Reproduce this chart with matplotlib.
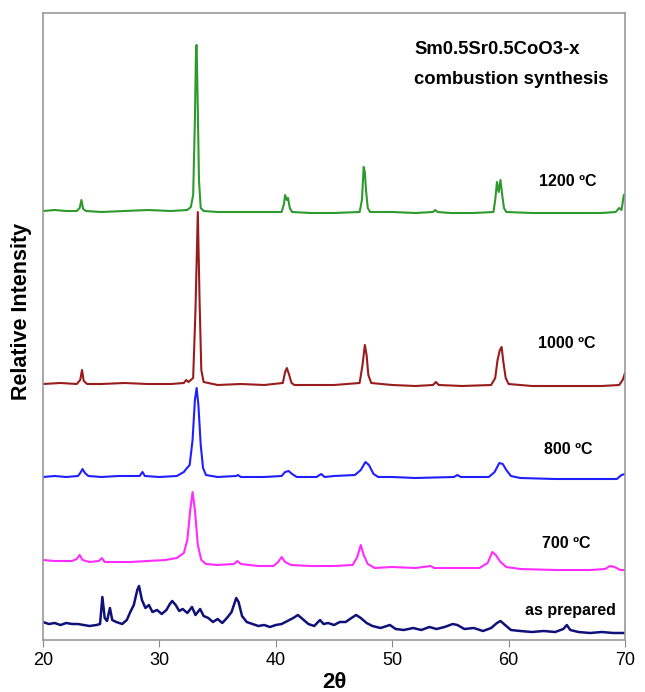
import matplotlib.pyplot as plt

# 2theta / relative intensity (offset traces, arbitrary units)
x_1200 = [20.0, 21.0, 22.0, 22.9, 23.15, 23.3, 23.45, 23.7, 25.0, 27.0, 29.0, 31.0, 32.4, 32.7, 32.9, 33.05,
          33.15, 33.2, 33.3, 33.4, 33.55, 33.8, 35.0, 37.0, 39.0, 40.5, 40.7, 40.8, 40.95, 41.05, 41.2, 41.4,
          43.0, 45.0, 47.2, 47.4, 47.55, 47.65, 47.75, 47.9, 48.1, 50.0, 52.0, 53.5, 53.7, 53.9, 55.0, 57.0,
          58.7, 58.85, 59.0, 59.15, 59.3, 59.45, 59.6, 59.8, 62.0, 65.0, 68.0, 69.2, 69.5, 69.7, 69.9, 70.0]
y_1200 = [429, 430, 429, 429, 432, 440, 431, 429, 428, 429, 430, 429, 430, 433, 445, 520,
          594, 595, 530, 460, 432, 429, 428, 428, 428, 428, 436, 445, 440, 442, 432, 428,
          427, 427, 428, 440, 473, 468, 450, 432, 428, 428, 427, 428, 430, 428, 427, 427,
          428, 440, 458, 448, 460, 445, 432, 428, 427, 427, 427, 428, 432, 430, 445, 446]

x_1000 = [20.0, 21.5, 22.9, 23.2, 23.35, 23.5, 23.8, 25.0, 27.0, 29.0, 31.0, 32.1, 32.3, 32.5, 32.9, 33.1,
          33.3, 33.45, 33.6, 33.8, 35.0, 37.0, 39.0, 40.6, 40.8, 40.95, 41.15, 41.35, 41.6, 43.0, 45.0,
          47.2, 47.45, 47.65, 47.8, 47.95, 48.2, 50.0, 52.0, 53.5, 53.75, 54.0, 56.0, 58.5, 58.85, 59.05,
          59.25, 59.4, 59.55, 59.75, 60.0, 62.0, 65.0, 68.0, 69.5, 69.8, 70.0]
y_1000 = [256, 257, 256, 260, 270, 259, 256, 256, 257, 256, 256, 257, 260, 258, 262, 330,
          428, 340, 270, 258, 255, 256, 255, 257, 268, 272, 265, 257, 255, 255, 255,
          257, 275, 295, 285, 265, 257, 255, 254, 255, 258, 255, 254, 255, 262, 280,
          290, 293, 278, 262, 256, 254, 254, 254, 255, 260, 267]

x_800 = [20.0, 21.0, 22.0, 23.0, 23.2, 23.4, 23.6, 23.9, 25.0, 26.5, 28.3, 28.55, 28.75, 30.0, 31.5, 32.1,
         32.3, 32.6, 32.85, 33.05, 33.2, 33.35, 33.55, 33.75, 34.0, 35.0, 36.6, 36.75, 37.0, 39.0, 40.5,
         40.8, 41.1, 41.4, 41.8, 43.5, 43.9, 44.2, 45.0, 46.8, 47.3, 47.7, 48.0, 48.4, 48.8, 50.0, 52.0,
         55.3, 55.6, 55.9, 58.3, 58.8, 59.2, 59.5, 59.8, 60.2, 61.0, 64.0, 67.0, 69.3, 69.7, 70.0]
y_800 = [163, 164, 163, 164, 167, 171, 167, 164, 163, 164, 164, 168, 164, 163, 164, 168,
         171, 175, 200, 240, 252, 235, 195, 172, 165, 163, 164, 165, 163, 163, 164,
         168, 169, 166, 163, 163, 166, 163, 164, 165, 170, 178, 175, 166, 163, 163, 162,
         163, 165, 163, 163, 168, 177, 176, 170, 164, 162, 161, 161, 161, 165, 166]

x_700 = [20.0, 21.0, 22.5, 22.9, 23.15, 23.4, 24.0, 24.8, 25.05, 25.3, 26.0, 27.5, 29.0, 30.5, 31.5, 32.1,
         32.4, 32.65, 32.85, 33.05, 33.3, 33.6, 34.0, 35.0, 36.4, 36.7, 37.0, 38.5, 39.8, 40.2, 40.5,
         40.8, 41.3, 43.0, 45.0, 46.6, 47.0, 47.3, 47.55, 47.9, 48.5, 50.0, 52.0, 53.3, 53.6, 55.0, 57.5,
         58.2, 58.6, 58.9, 59.3, 59.8, 61.0, 64.0, 67.0, 68.3, 68.7, 69.1, 69.6, 70.0]
y_700 = [80, 79, 79, 81, 85, 80, 78, 79, 82, 78, 78, 78, 79, 80, 82, 87,
         100, 130, 148, 130, 95, 80, 76, 75, 76, 79, 76, 74, 74, 78, 83,
         78, 75, 74, 74, 75, 83, 95, 85, 76, 72, 73, 72, 74, 72, 72, 72,
         77, 88, 85, 78, 73, 71, 70, 70, 71, 74, 73, 70, 70]

x_prep = [20.0, 20.5, 21.0, 21.5, 22.0, 22.5, 23.0, 23.5, 24.0, 24.6, 24.9, 25.1, 25.3, 25.5, 25.75, 25.95,
          26.3, 26.8, 27.2, 27.5, 27.8, 28.1, 28.25, 28.5, 28.8, 29.1, 29.4, 29.8, 30.2, 30.6, 30.9, 31.1,
          31.4, 31.7, 32.0, 32.4, 32.8, 33.1, 33.5, 33.8, 34.2, 34.6, 35.0, 35.4, 35.8, 36.2, 36.6, 36.8,
          37.1, 37.5, 38.0, 38.5, 39.0, 39.5, 40.0, 40.5, 41.0, 41.5, 41.9, 42.3, 42.8, 43.3, 43.8, 44.1,
          44.5, 45.0, 45.5, 46.0, 46.5, 46.9, 47.3, 47.8, 48.3, 49.0, 49.8, 50.3, 51.0, 51.8, 52.5, 53.2,
          53.8, 54.5, 55.2, 55.6, 56.2, 57.0, 57.8, 58.5, 59.0, 59.3, 59.7, 60.2, 61.0, 62.0, 63.0, 64.0,
          64.7, 65.0, 65.3, 66.0, 67.0, 68.0, 69.0, 70.0]
y_prep = [18, 16, 17, 15, 17, 16, 16, 15, 14, 15, 16, 43, 22, 19, 32, 20,
          18, 16, 20, 28, 35, 50, 54, 40, 32, 35, 28, 30, 26, 30, 36, 39,
          35, 29, 31, 27, 33, 25, 31, 24, 22, 18, 21, 17, 22, 28, 42, 38,
          24, 18, 16, 14, 15, 13, 15, 16, 19, 22, 25, 21, 16, 14, 20, 16,
          17, 15, 18, 18, 22, 25, 22, 17, 14, 12, 15, 11, 10, 12, 10, 13,
          11, 13, 16, 15, 11, 12, 9, 12, 17, 19, 15, 10, 9, 8, 9, 8,
          11, 15, 10, 8, 7, 8, 7, 7]

labels = ["1200 \u00baC", "1000 \u00baC", "800 \u00baC", "700 \u00baC", "as prepared"]
colors = ["#2e9a2e", "#991c1c", "#1f1fff", "#ff2bff", "#10107a"]
label_pos = [(62.6, 458), (62.5, 297), (63.0, 190), (62.9, 96), (61.4, 30)]

plt.rcParams['font.family'] = ['Liberation Sans', 'DejaVu Sans']

fig = plt.figure(figsize=(6.45, 6.92), dpi=100)
ax = fig.add_axes([43 / 645, 52 / 692, 582 / 645, 627 / 692])

traces = [(x_1200, y_1200), (x_1000, y_1000), (x_800, y_800), (x_700, y_700), (x_prep, y_prep)]
# bottom traces first so the upper ones sit on top
for i in range(len(traces) - 1, -1, -1):
    xs, ys = traces[i]
    lw = 1.8 if i == 4 else 1.5
    ax.plot(xs, ys, color=colors[i], lw=lw)

for i in range(len(labels)):
    ax.text(label_pos[i][0], label_pos[i][1], labels[i], fontsize=11.5, fontweight='bold',
            ha='left', va='center')

ax.text(51.9, 590, "Sm0.5Sr0.5CoO3-x", fontsize=13.3, fontweight='bold', va='center')
ax.text(51.9, 560, "combustion synthesis", fontsize=13.3, fontweight='bold', va='center')

ax.set_xlim(20, 70)
ax.set_ylim(0, 627)
ax.set_xticks([20, 30, 40, 50, 60, 70])
ax.set_yticks([])
ax.tick_params(axis='x', direction='out', length=5, color='#888888', labelsize=13)
for s in ax.spines.values():
    s.set_color('#999999')
    s.set_linewidth(1.2)

ax.set_xlabel("2\u03b8", fontsize=16, fontweight='bold', labelpad=2)
fig.text(22 / 645, 1 - 311 / 692, "Relative Intensity", rotation=90, fontsize=15.5,
         fontweight='bold', ha='center', va='center')

fig.savefig("out.png", dpi=100)
